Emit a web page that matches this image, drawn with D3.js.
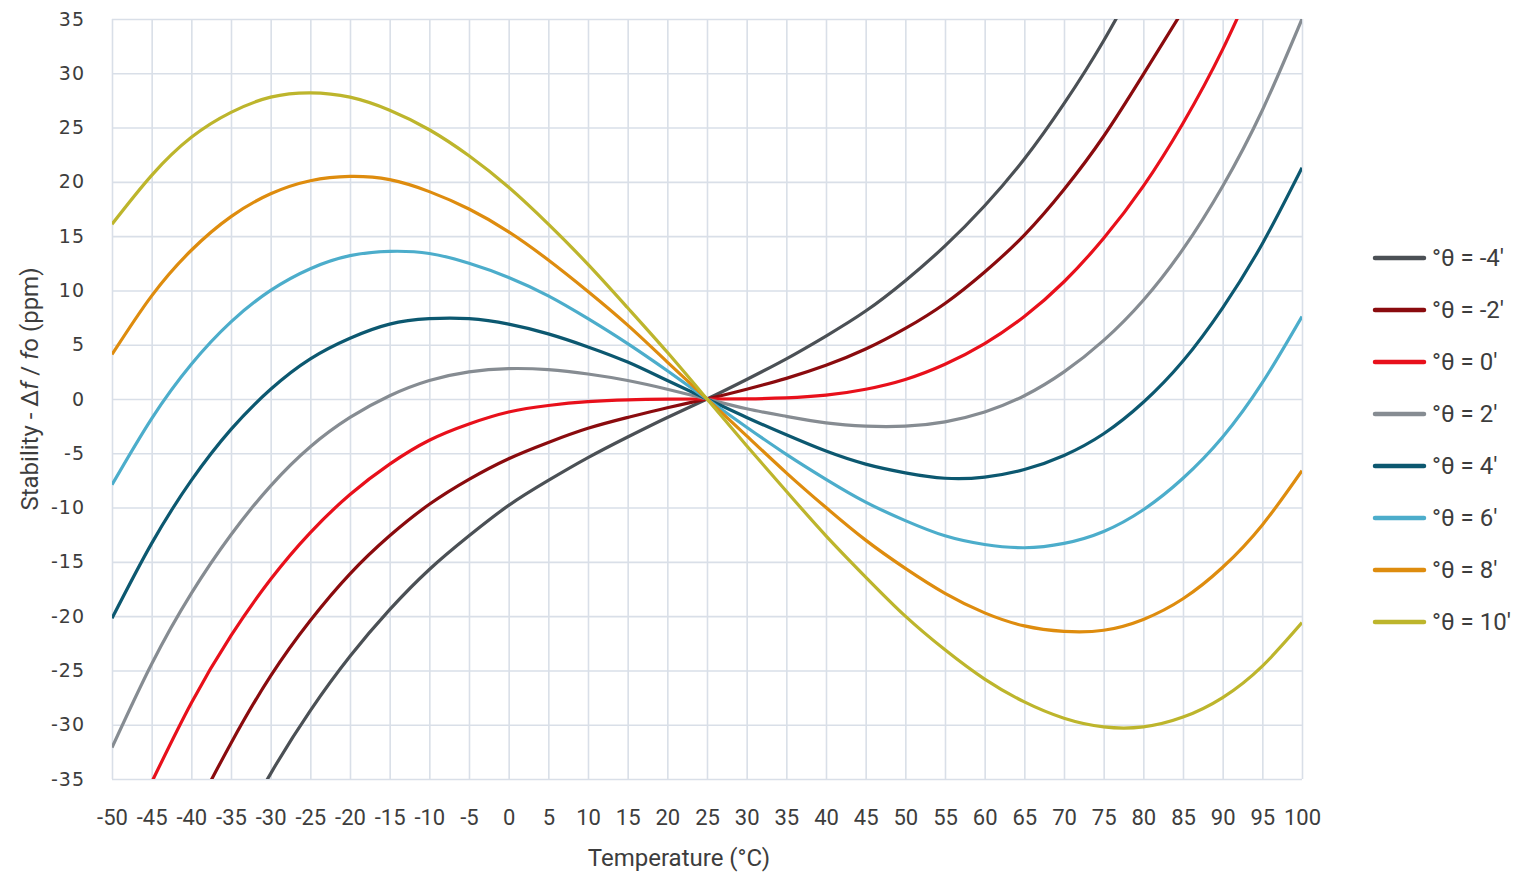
<!DOCTYPE html>
<html>
<head>
<meta charset="utf-8">
<script src="https://cdn.jsdelivr.net/npm/d3@7"></script>
<style>
  html, body { margin: 0; padding: 0; background: #fff; overflow: hidden; }
  svg { display: block; }
  .sc-grid line { stroke: #d9dfe8; stroke-width: 1.6; }
  .sc-grid path { display: none; }
  .sc-axis path, .sc-axis line { display: none; }
</style>
</head>
<body>
<svg id="chart"></svg>
<script>
// temperature steps (°C)
const temps = [-50, -45, -40, -35, -30, -25, -20, -15, -10, -5, 0, 5, 10, 15, 20, 25,
  30, 35, 40, 45, 50, 55, 60, 65, 70, 75, 80, 85, 90, 95, 100];

const yTicks = [-35, -30, -25, -20, -15, -10, -5, 0, 5, 10, 15, 20, 25, 30, 35];

const seriesNames = ["°θ = -4'", "°θ = -2'", "°θ = 0'", "°θ = 2'",
  "°θ = 4'", "°θ = 6'", "°θ = 8'", "°θ = 10'"];

// stability in ppm, one value per temperature step (null = off the chart)
const thetaM4 = [null, null, null, -41.1, -34.5, -28.7, -23.7, -19.4, -15.7, -12.6, -9.8,
  -7.5, -5.4, -3.5, -1.7, 0, 1.8, 3.7, 5.8, 8.1, 10.9, 14.1, 17.8, 22.1, 27.2, 33.0, 39.6,
  null, null, null, null];
const thetaM2 = [null, null, -38.6, -31.7, -25.5, -20.4, -16.1, -12.6, -9.7, -7.4, -5.5,
  -4.0, -2.7, -1.7, -0.8, 0, 0.9, 1.9, 3.1, 4.6, 6.5, 8.8, 11.7, 15.1, 19.3, 24.2, 29.9,
  35.8, null, null, null];
const theta0 = [null, -35.3, -28.0, -21.8, -16.6, -12.3, -8.8, -6.0, -3.8, -2.3, -1.2,
  -0.6, -0.25, -0.08, -0.02, 0, 0.02, 0.1, 0.35, 0.9, 1.8, 3.2, 5.1, 7.6, 10.8, 14.8, 19.6,
  25.4, 32.2, 40.2, null];
const theta2 = [-32.1, -24.4, -17.9, -12.5, -8.0, -4.4, -1.7, 0.3, 1.7, 2.5, 2.8,
  2.7, 2.3, 1.7, 0.9, 0, -0.9, -1.6, -2.2, -2.5, -2.5, -2.1, -1.2, 0.3, 2.5, 5.4, 9.1,
  13.8, 19.6, 26.6, 35.0];
const theta4 = [-20.2, -13.3, -7.5, -2.8, 0.9, 3.7, 5.6, 6.9, 7.4, 7.4, 6.9,
  6.0, 4.8, 3.4, 1.7, 0, -1.7, -3.3, -4.8, -6.0, -6.8, -7.3, -7.2, -6.5, -5.2, -3.2, -0.3,
  3.5, 8.4, 14.3, 21.3];
const theta6 = [-7.9, -1.8, 3.2, 7.1, 10.0, 12.0, 13.2, 13.6, 13.4, 12.5, 11.2,
  9.5, 7.4, 5.1, 2.6, 0, -2.6, -5.1, -7.4, -9.5, -11.2, -12.6, -13.4, -13.7, -13.3, -12.2, -10.2,
  -7.3, -3.5, 1.5, 7.6];
const theta8 = [4.1, 9.5, 13.7, 16.8, 18.9, 20.1, 20.5, 20.2, 19.1, 17.5, 15.4,
  12.8, 9.9, 6.8, 3.4, 0, -3.4, -6.8, -10.0, -13.0, -15.6, -17.9, -19.7, -20.9, -21.4, -21.3, -20.3,
  -18.4, -15.5, -11.6, -6.6];
const theta10 = [16.1, 20.6, 24.1, 26.4, 27.8, 28.2, 27.8, 26.6, 24.8, 22.4, 19.5,
  16.1, 12.4, 8.4, 4.3, 0, -4.3, -8.5, -12.6, -16.4, -20.0, -23.1, -25.8, -27.9, -29.4, -30.2, -30.2,
  -29.3, -27.5, -24.6, -20.6];

const colorSet = ['#4b5055', '#8a0b0e', '#e8101b', '#868c92',
  '#0c5870', '#4cadcb', '#de8c0e', '#bdb52c'];

const textColor = '#3d3d3d';
const margin = { top: 19, right: 218, bottom: 95, left: 112 };
const width = 1520;
const height = 874;
const innerWidth = width - margin.left - margin.right;
const innerHeight = height - margin.top - margin.bottom;

const series = [thetaM4, thetaM2, theta0, theta2, theta4, theta6, theta8, theta10]
  .map((values, i) => ({
    name: seriesNames[i],
    color: colorSet[i],
    points: temps.map((t, j) => ({ t, v: values[j] })),
  }));

const svg = d3.select('#chart')
  .attr('width', width)
  .attr('height', height);

const gRoot = svg.append('g')
  .attr('transform', `translate(${margin.left}, ${margin.top})`);

// Scales
const xScale = d3.scaleLinear().domain([-50, 100]).range([0, innerWidth]);
const yScale = d3.scaleLinear().domain([-35, 35]).range([innerHeight, 0]);

// Grid
gRoot.append('g')
  .attr('class', 'sc-grid')
  .attr('transform', `translate(0,${innerHeight})`)
  .call(d3.axisBottom(xScale).tickValues(temps).tickSize(-innerHeight).tickFormat(''));
gRoot.append('g')
  .attr('class', 'sc-grid')
  .call(d3.axisLeft(yScale).tickValues(yTicks).tickSize(-innerWidth).tickFormat(''));

// Axes (labels only), plain hyphen for negatives like the original
const tickFormat = (v) => String(v);
gRoot.append('g')
  .attr('class', 'sc-axis sc-axis-x')
  .attr('transform', `translate(0,${innerHeight})`)
  .call(d3.axisBottom(xScale).tickValues(temps).tickSize(0).tickPadding(30)
    .tickFormat(tickFormat))
  .attr('font-family', 'Roboto')
  .attr('font-size', 22)
  .selectAll('text')
  .attr('fill', textColor);

gRoot.append('g')
  .attr('class', 'sc-axis sc-axis-y')
  .call(d3.axisLeft(yScale).tickValues(yTicks).tickSize(0).tickPadding(27)
    .tickFormat(tickFormat))
  .attr('font-family', 'DejaVu Sans')
  .attr('font-size', 19)
  .attr('letter-spacing', 1)
  .selectAll('text')
  .attr('fill', textColor);

// Axis titles
svg.append('text')
  .attr('x', 679)
  .attr('y', 866)
  .attr('text-anchor', 'middle')
  .attr('font-family', 'Roboto')
  .attr('font-size', 24)
  .attr('fill', textColor)
  .text('Temperature (°C)');

const yTitle = svg.append('text')
  .attr('transform', 'translate(38, 389) rotate(-90)')
  .attr('text-anchor', 'middle')
  .attr('font-family', 'Roboto')
  .attr('font-size', 24)
  .attr('fill', textColor);
yTitle.append('tspan').text('Stability - Δ');
yTitle.append('tspan').attr('font-style', 'italic').text('f');
yTitle.append('tspan').text(' / ');
yTitle.append('tspan').attr('font-style', 'italic').text('f');
yTitle.append('tspan').text('o (ppm)');

// Curves
svg.append('defs').append('clipPath')
  .attr('id', 'plot-clip')
  .append('rect')
  .attr('x', 0)
  .attr('y', 0)
  .attr('width', innerWidth)
  .attr('height', innerHeight);

const line = d3.line()
  .defined((d) => d.v !== null)
  .x((d) => xScale(d.t))
  .y((d) => yScale(d.v))
  .curve(d3.curveNatural);

gRoot.append('g')
  .attr('clip-path', 'url(#plot-clip)')
  .selectAll('path')
  .data(series)
  .enter()
  .append('path')
  .attr('fill', 'none')
  .attr('stroke', (d) => d.color)
  .attr('stroke-width', 3.2)
  .attr('stroke-linejoin', 'round')
  .attr('d', (d) => line(d.points));

// Legend
const legend = svg.append('g')
  .attr('transform', 'translate(1373, 258)');

const legendRows = legend.selectAll('g')
  .data(series)
  .enter()
  .append('g')
  .attr('transform', (d, i) => `translate(0, ${i * 52})`);

legendRows.append('line')
  .attr('x1', 2)
  .attr('x2', 51)
  .attr('stroke', (d) => d.color)
  .attr('stroke-width', 4.5)
  .attr('stroke-linecap', 'round');

legendRows.append('text')
  .attr('x', 59)
  .attr('y', 8)
  .attr('font-family', 'Roboto')
  .attr('font-size', 24)
  .attr('fill', textColor)
  .text((d) => d.name);
</script>
</body>
</html>
